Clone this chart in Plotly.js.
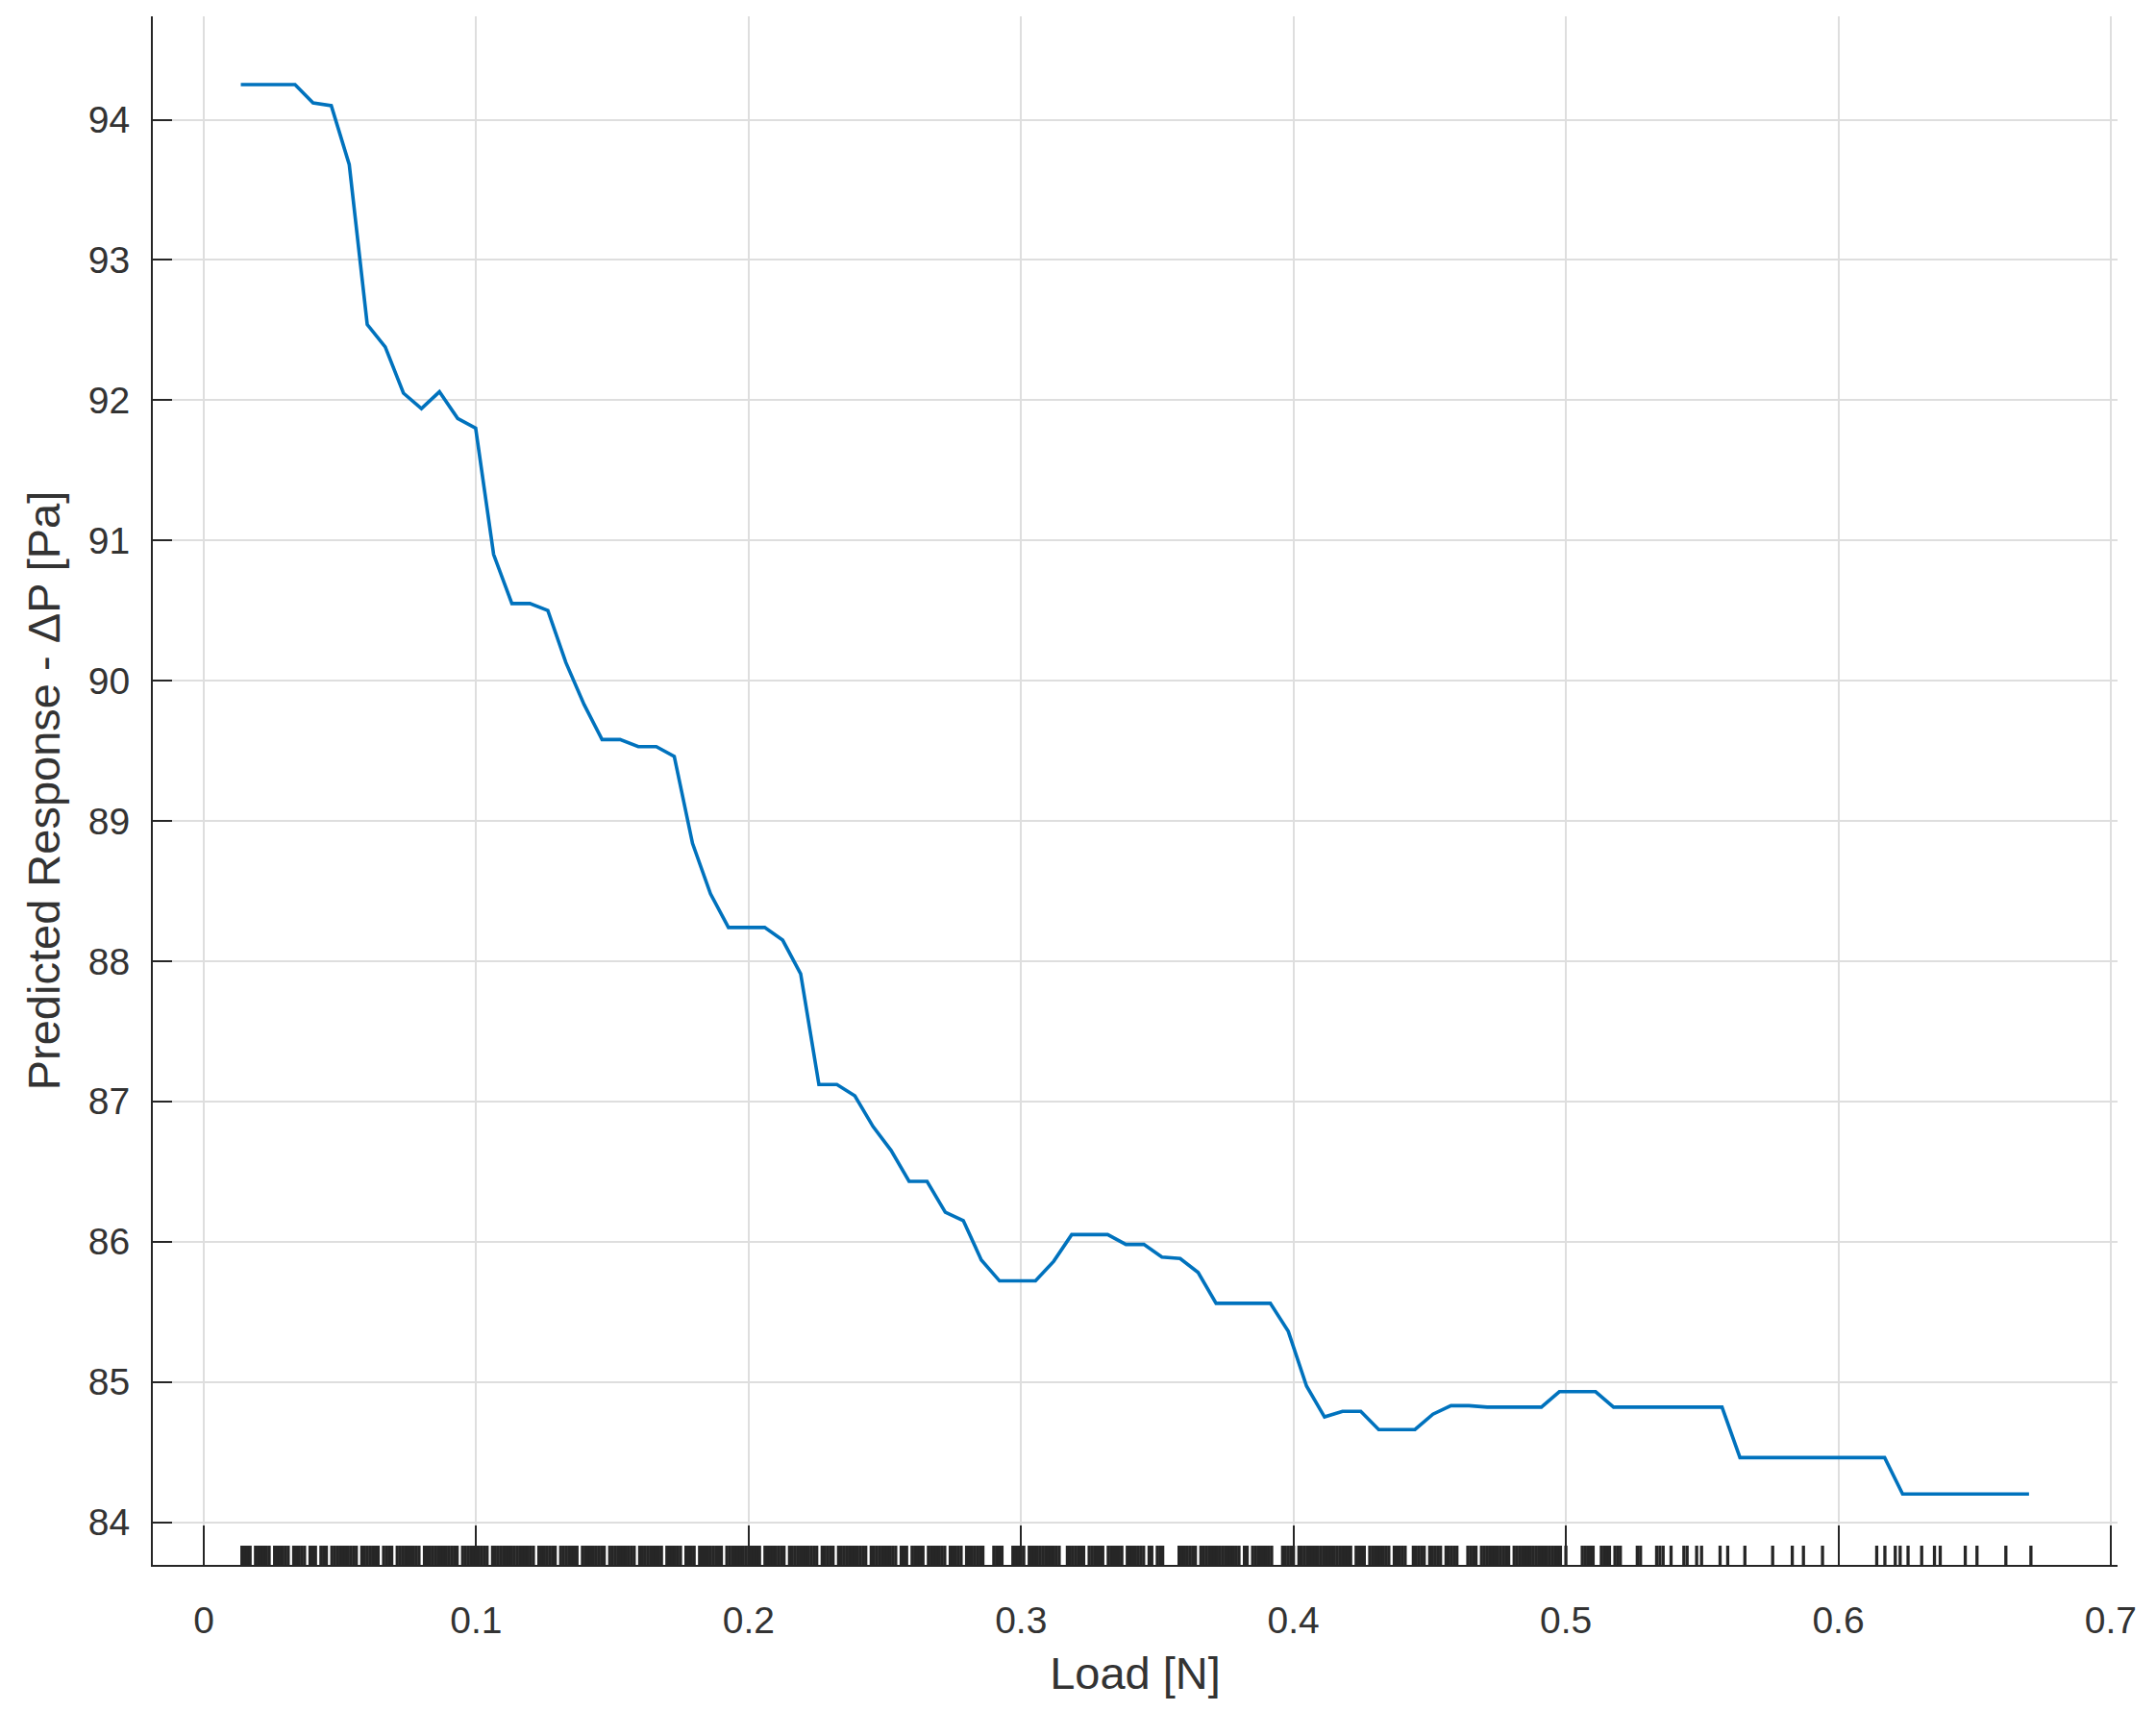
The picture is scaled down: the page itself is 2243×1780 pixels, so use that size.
<!DOCTYPE html>
<html>
<head>
<meta charset="utf-8">
<script src="https://cdn.plot.ly/plotly-3.0.1.min.js"></script>
<style>
	body { margin: 0; background: #fff; }
	#plot1 { width: 2243px; height: 1780px; }
</style>
</head>
<body>
<div id="plot1"></div>
<script>
// Partial dependence of predicted pressure drop on load
var load = [
	0.0136, 0.0202, 0.0269, 0.0335, 0.0401, 0.0468, 0.0534, 0.0600, 0.0666, 0.0733,
	0.0799, 0.0865, 0.0932, 0.0998, 0.1064, 0.1131, 0.1197, 0.1263, 0.1329, 0.1396,
	0.1462, 0.1528, 0.1595, 0.1661, 0.1727, 0.1794, 0.1860, 0.1926, 0.1992, 0.2059,
	0.2125, 0.2191, 0.2258, 0.2324, 0.2390, 0.2457, 0.2523, 0.2589, 0.2655, 0.2722,
	0.2788, 0.2854, 0.2921, 0.2987, 0.3053, 0.3120, 0.3186, 0.3252, 0.3318, 0.3385,
	0.3451, 0.3517, 0.3584, 0.3650, 0.3716, 0.3783, 0.3849, 0.3915, 0.3981, 0.4048,
	0.4114, 0.4180, 0.4247, 0.4313, 0.4379, 0.4446, 0.4512, 0.4578, 0.4644, 0.4711,
	0.4777, 0.4843, 0.4910, 0.4976, 0.5042, 0.5109, 0.5175, 0.5241, 0.5308, 0.5374,
	0.5440, 0.5507, 0.5573, 0.5639, 0.5705, 0.5772, 0.5838, 0.5904, 0.5971, 0.6037,
	0.6103, 0.6170, 0.6236, 0.6302, 0.6368, 0.6435, 0.6501, 0.6567, 0.6634, 0.6700
];

var response = [
	94.25, 94.25, 94.25, 94.25, 94.12, 94.10, 93.68, 92.54, 92.38, 92.05,
	91.94, 92.06, 91.87, 91.80, 90.90, 90.55, 90.55, 90.50, 90.13, 89.83,
	89.58, 89.58, 89.53, 89.53, 89.46, 88.84, 88.48, 88.24, 88.24, 88.24,
	88.15, 87.91, 87.12, 87.12, 87.04, 86.82, 86.65, 86.43, 86.43, 86.21,
	86.15, 85.87, 85.72, 85.72, 85.72, 85.86, 86.05, 86.05, 86.05, 85.98,
	85.98, 85.89, 85.88, 85.78, 85.56, 85.56, 85.56, 85.56, 85.36, 84.97,
	84.75, 84.79, 84.79, 84.66, 84.66, 84.66, 84.77, 84.83, 84.83, 84.82,
	84.82, 84.82, 84.82, 84.93, 84.93, 84.93, 84.82, 84.82, 84.82, 84.82,
	84.82, 84.82, 84.82, 84.46, 84.46, 84.46, 84.46, 84.46, 84.46, 84.46,
	84.46, 84.46, 84.20, 84.20, 84.20, 84.20, 84.20, 84.20, 84.20, 84.20
];

// observed load values (rug along the x axis)
var rugLoad = [
	0.014, 0.015, 0.016, 0.017, 0.019, 0.020, 0.021, 0.022, 0.023, 0.024, 0.026, 0.027, 0.028, 0.029,
	0.030, 0.031, 0.033, 0.034, 0.035, 0.036, 0.037, 0.039, 0.040, 0.041, 0.043, 0.044, 0.045, 0.047,
	0.048, 0.049, 0.050, 0.051, 0.052, 0.053, 0.054, 0.055, 0.056, 0.058, 0.059, 0.060, 0.061, 0.062,
	0.063, 0.064, 0.066, 0.067, 0.068, 0.069, 0.071, 0.072, 0.073, 0.074, 0.075, 0.076, 0.077, 0.078,
	0.079, 0.081, 0.082, 0.083, 0.084, 0.085, 0.086, 0.087, 0.088, 0.089, 0.090, 0.091, 0.092, 0.093,
	0.095, 0.096, 0.097, 0.098, 0.099, 0.100, 0.101, 0.102, 0.103, 0.104, 0.106, 0.107, 0.108, 0.109,
	0.110, 0.111, 0.112, 0.113, 0.114, 0.115, 0.116, 0.117, 0.118, 0.119, 0.120, 0.121, 0.123, 0.124,
	0.125, 0.126, 0.127, 0.128, 0.129, 0.131, 0.132, 0.133, 0.134, 0.135, 0.136, 0.137, 0.139, 0.140,
	0.141, 0.142, 0.143, 0.144, 0.145, 0.146, 0.147, 0.149, 0.150, 0.151, 0.152, 0.153, 0.154, 0.155,
	0.156, 0.157, 0.158, 0.160, 0.161, 0.162, 0.163, 0.164, 0.165, 0.166, 0.167, 0.168, 0.170, 0.171,
	0.172, 0.173, 0.174, 0.175, 0.177, 0.178, 0.179, 0.180, 0.182, 0.183, 0.184, 0.185, 0.186, 0.187,
	0.188, 0.189, 0.190, 0.192, 0.193, 0.194, 0.195, 0.196, 0.197, 0.198, 0.199, 0.200, 0.201, 0.202,
	0.203, 0.204, 0.206, 0.207, 0.208, 0.209, 0.210, 0.211, 0.212, 0.213, 0.215, 0.216, 0.217, 0.218,
	0.219, 0.220, 0.221, 0.222, 0.223, 0.224, 0.225, 0.227, 0.228, 0.229, 0.230, 0.231, 0.233, 0.234,
	0.235, 0.236, 0.237, 0.238, 0.239, 0.240, 0.241, 0.242, 0.243, 0.245, 0.246, 0.247, 0.248, 0.249,
	0.250, 0.251, 0.252, 0.253, 0.254, 0.256, 0.257, 0.258, 0.260, 0.261, 0.262, 0.263, 0.264, 0.266,
	0.267, 0.268, 0.269, 0.270, 0.271, 0.272, 0.274, 0.275, 0.276, 0.277, 0.278, 0.280, 0.281, 0.282,
	0.283, 0.284, 0.285, 0.286, 0.290, 0.291, 0.292, 0.293, 0.297, 0.298, 0.299, 0.300, 0.301, 0.303,
	0.304, 0.305, 0.306, 0.307, 0.308, 0.309, 0.310, 0.311, 0.312, 0.313, 0.314, 0.317, 0.318, 0.319,
	0.320, 0.321, 0.322, 0.323, 0.325, 0.326, 0.327, 0.328, 0.329, 0.330, 0.332, 0.333, 0.334, 0.335,
	0.336, 0.337, 0.339, 0.340, 0.341, 0.342, 0.343, 0.344, 0.345, 0.347, 0.348, 0.350, 0.351, 0.352,
	0.358, 0.359, 0.360, 0.361, 0.362, 0.363, 0.364, 0.366, 0.367, 0.368, 0.369, 0.370, 0.371, 0.372,
	0.373, 0.374, 0.375, 0.376, 0.377, 0.378, 0.379, 0.380, 0.382, 0.383, 0.385, 0.386, 0.387, 0.388,
	0.389, 0.390, 0.391, 0.392, 0.396, 0.397, 0.398, 0.399, 0.400, 0.402, 0.403, 0.404, 0.405, 0.406,
	0.407, 0.408, 0.409, 0.410, 0.411, 0.412, 0.413, 0.414, 0.415, 0.416, 0.417, 0.418, 0.419, 0.420,
	0.421, 0.423, 0.424, 0.425, 0.426, 0.428, 0.429, 0.430, 0.431, 0.432, 0.433, 0.434, 0.435, 0.437,
	0.438, 0.439, 0.440, 0.441, 0.444, 0.445, 0.446, 0.447, 0.448, 0.450, 0.451, 0.452, 0.453, 0.454,
	0.456, 0.457, 0.458, 0.459, 0.460, 0.464, 0.465, 0.466, 0.467, 0.469, 0.470, 0.471, 0.472, 0.473,
	0.474, 0.475, 0.476, 0.477, 0.478, 0.479, 0.481, 0.482, 0.483, 0.484, 0.485, 0.486, 0.487, 0.488,
	0.489, 0.490, 0.491, 0.492, 0.493, 0.494, 0.495, 0.496, 0.497, 0.498, 0.500, 0.506, 0.507, 0.508,
	0.509, 0.510, 0.513, 0.514, 0.515, 0.516, 0.518, 0.519, 0.520,
	0.5262, 0.5274, 0.5333, 0.5345, 0.5357, 0.5386, 0.5433, 0.5445, 0.5480, 0.5498, 0.5566, 0.5594,
	0.5657, 0.5759, 0.5831, 0.5872, 0.5942, 0.6141, 0.6171, 0.6209, 0.6227, 0.6256, 0.6306, 0.6353,
	0.6374, 0.6466, 0.6509, 0.6615, 0.6707
];

var xTicks = [0, 0.1, 0.2, 0.3, 0.4, 0.5, 0.6, 0.7];
var xTickText = ['0', '0.1', '0.2', '0.3', '0.4', '0.5', '0.6', '0.7'];
var yTicks = [84, 85, 86, 87, 88, 89, 90, 91, 92, 93, 94];

var axisColor = '#262626';
var yMin = 83.695, yMax = 94.737;
var plotHeightPx = 1780 - 17 - 152;
var rugLen = 20 * (yMax - yMin) / plotHeightPx;

function rugTrace() {
	var rx = [], ry = [];
	rugLoad.forEach(function(v) {
		rx.push(v, v, null);
		ry.push(yMin, yMin + rugLen, null);
	});
	return {
		x: rx,
		y: ry,
		mode: 'lines',
		type: 'scatter',
		line: {color: axisColor, width: 3.3},
		hoverinfo: 'skip',
		showlegend: false
	};
}

function drawPlot1() {
	var trace = {
		x: load,
		y: response,
		mode: 'lines',
		type: 'scatter',
		line: {color: '#0072BD', width: 3.6},
		showlegend: false
	};
	var layout = {
		width: 2243,
		height: 1780,
		margin: {l: 159, r: 40, t: 17, b: 152},
		paper_bgcolor: '#fff',
		plot_bgcolor: '#fff',
		font: {family: 'Liberation Sans, Arial, sans-serif', color: axisColor},
		showlegend: false,
		xaxis: {
			range: [-0.0187, 0.7025],
			tickvals: xTicks,
			ticktext: xTickText,
			showgrid: true,
			gridcolor: '#dedede',
			gridwidth: 2,
			zeroline: false,
			ticks: 'inside',
			ticklen: 41,
			tickwidth: 2,
			tickcolor: axisColor,
			showline: true,
			linecolor: axisColor,
			linewidth: 2,
			ticklabelstandoff: 22,
			tickfont: {size: 39, color: '#333333'},
			title: {text: 'Load [N]', font: {size: 47, color: '#333333'}, standoff: 18}
		},
		yaxis: {
			range: [yMin, yMax],
			tickvals: yTicks,
			showgrid: true,
			gridcolor: '#dedede',
			gridwidth: 2,
			zeroline: false,
			ticks: 'inside',
			ticklen: 20,
			tickwidth: 2,
			tickcolor: axisColor,
			showline: true,
			linecolor: axisColor,
			linewidth: 2,
			ticklabelstandoff: 14,
			tickfont: {size: 39, color: '#333333'},
			title: {text: 'Predicted Response - ΔP [Pa]', font: {size: 47, color: '#333333'}, standoff: 14}
		}
	};
	Plotly.newPlot('plot1', [rugTrace(), trace], layout, {staticPlot: true});
}

drawPlot1();
</script>
</body>
</html>
